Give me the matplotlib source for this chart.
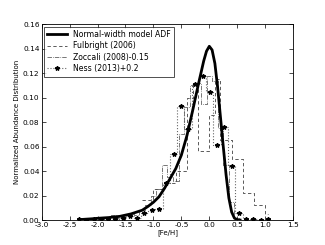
import matplotlib
matplotlib.use("Agg")
import matplotlib.pyplot as plt

# model ADF curve
model_feh = [-2.3, -2.1, -2.0, -1.8, -1.6, -1.4, -1.2, -1.1, -1.0, -0.9, -0.8,
             -0.7, -0.6, -0.5, -0.4, -0.3, -0.2, -0.15, -0.1, -0.05, 0.0,
             0.05, 0.1, 0.15, 0.2, 0.25, 0.3, 0.35, 0.4, 0.45, 0.5, 0.55]
model_adf = [0.0004, 0.001, 0.0014, 0.002, 0.003, 0.005, 0.008, 0.011, 0.0145,
             0.019, 0.026, 0.034, 0.042, 0.053, 0.069, 0.089, 0.110, 0.120,
             0.130, 0.138, 0.142, 0.139, 0.128, 0.108, 0.084, 0.060, 0.037,
             0.018, 0.0065, 0.0015, 0.0003, 0.0]

# Fulbright (2006): bin edges and heights
fulb_edges = [-1.2, -1.1, -1.0, -0.9, -0.8, -0.7, -0.6, -0.5, -0.4, -0.3,
              -0.2, -0.1, 0.0, 0.1, 0.2, 0.3, 0.4, 0.5, 0.6, 0.7, 0.8, 0.9,
              1.0, 1.05]
fulb_vals = [0.016, 0.016, 0.025, 0.025, 0.030, 0.030, 0.040, 0.040, 0.100,
             0.110, 0.056, 0.056, 0.086, 0.115, 0.065, 0.065, 0.050, 0.050,
             0.022, 0.022, 0.012, 0.012, 0.005]

# Zoccali (2008) shifted by -0.15
zocc_edges = [-1.85, -1.75, -1.65, -1.55, -1.45, -1.35, -1.25, -1.15, -1.05,
              -0.95, -0.85, -0.75, -0.65, -0.55, -0.45, -0.35, -0.25, -0.15,
              -0.05, 0.05, 0.15, 0.25, 0.35, 0.45, 0.55]
zocc_vals = [0.002, 0.004, 0.002, 0.003, 0.005, 0.004, 0.008, 0.012, 0.020,
             0.025, 0.045, 0.035, 0.032, 0.070, 0.092, 0.110, 0.112, 0.095,
             0.118, 0.114, 0.075, 0.045, 0.015, 0.002]

# Ness (2013) shifted by +0.2, bin centres
ness_feh = [-2.33, -2.20, -2.07, -1.94, -1.81, -1.68, -1.55, -1.42, -1.29,
            -1.16, -1.03, -0.90, -0.77, -0.64, -0.51, -0.38, -0.25, -0.12,
            0.01, 0.14, 0.27, 0.40, 0.53, 0.66, 0.79, 0.92, 1.05]
ness_vals = [0.001, 0.0, 0.001, 0.0005, 0.001, 0.001, 0.002, 0.003, 0.002,
             0.006, 0.008, 0.009, 0.030, 0.054, 0.093, 0.074, 0.111, 0.118,
             0.105, 0.061, 0.076, 0.044, 0.006, 0.001, 0.001, 0.0, 0.001]

fig = plt.figure(figsize=(3.25, 2.45), dpi=100)
ax = fig.add_axes([0.128, 0.102, 0.774, 0.799])

ax.plot(model_feh, model_adf, color="black", lw=2.0,
        label="Normal-width model ADF", zorder=5)
ax.step(fulb_edges, fulb_vals + [fulb_vals[-1]], where="post",
        color="0.25", ls=(0, (4, 3)), lw=0.6, label="Fulbright (2006)")
ax.step(zocc_edges, zocc_vals + [zocc_vals[-1]], where="post",
        color="0.25", ls="-.", lw=0.5, label="Zoccali (2008)-0.15")
ax.plot(ness_feh, ness_vals, color="0.4", ls=":", lw=0.8,
        drawstyle="steps-mid", marker="*", ms=3.2, mfc="black", mec="black",
        label="Ness (2013)+0.2")

ax.set_xlim(-3.0, 1.5)
ax.set_ylim(0.0, 0.16)
ax.set_xticks([-3.0, -2.5, -2.0, -1.5, -1.0, -0.5, 0.0, 0.5, 1.0, 1.5])
ax.set_yticks([0.0, 0.02, 0.04, 0.06, 0.08, 0.10, 0.12, 0.14, 0.16])
ax.xaxis.set_major_formatter(matplotlib.ticker.FormatStrFormatter("%.1f"))
ax.yaxis.set_major_formatter(matplotlib.ticker.FormatStrFormatter("%.2f"))
ax.tick_params(direction="in", top=True, right=True, labelsize=5.3,
               length=3, width=0.5, pad=1.5)
for s in ax.spines.values():
    s.set_linewidth(0.6)
ax.set_xlabel("[Fe/H]", fontsize=5, labelpad=1)
ax.set_ylabel("Normalized Abundance Distribution", fontsize=5, labelpad=2)

leg = ax.legend(loc="upper left", fontsize=5.6, frameon=True, fancybox=False,
                borderpad=0.45, handlelength=2.5, labelspacing=0.3,
                borderaxespad=0.3)
leg.get_frame().set_edgecolor("black")
leg.get_frame().set_linewidth(0.6)

fig.savefig("out.png", dpi=100)
